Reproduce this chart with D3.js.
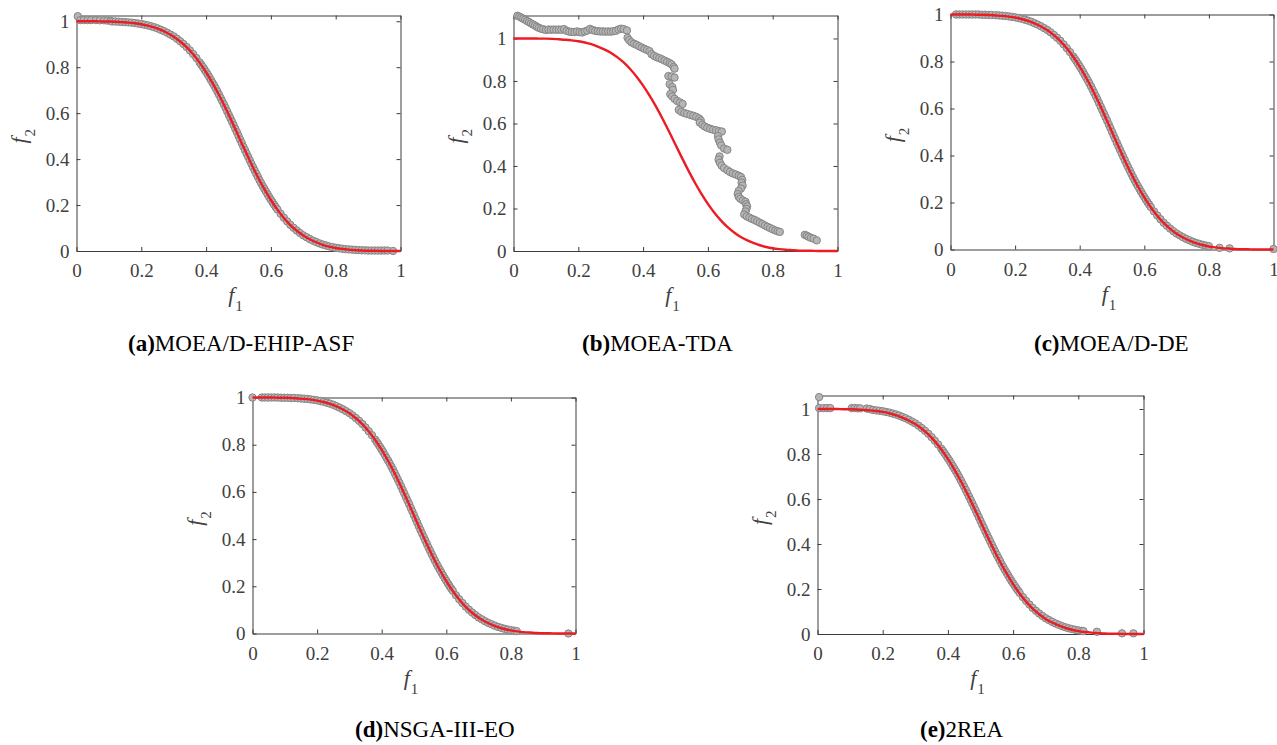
<!DOCTYPE html>
<html>
<head>
<meta charset="utf-8">
<script src="https://cdn.jsdelivr.net/npm/d3@7"></script>
<style>
  body { margin: 0; background: #fff; }
  svg { display: block; }
</style>
</head>
<body>
<script>
const width = 1277;
const height = 745;

// Tick values shared by every panel.
const xTicks = [0, 0.2, 0.4, 0.6, 0.8, 1];
const yTicks = [0, 0.2, 0.4, 0.6, 0.8, 1];

// True Pareto front (red line).
const frontF1 = [0, 0.02, 0.04, 0.06, 0.08, 0.10, 0.12, 0.14, 0.16, 0.18, 0.20, 0.22, 0.24, 0.26, 0.28, 0.30,
  0.32, 0.34, 0.36, 0.38, 0.40, 0.42, 0.44, 0.46, 0.48, 0.50, 0.52, 0.54, 0.56, 0.58, 0.60, 0.62, 0.64,
  0.66, 0.68, 0.70, 0.72, 0.74, 0.76, 0.78, 0.80, 0.82, 0.84, 0.86, 0.88, 0.90, 0.92, 0.94, 0.96, 0.98, 1];
const frontF2 = [1, 1, 1, 1, 0.999, 0.999, 0.998, 0.996, 0.994, 0.991, 0.987, 0.981, 0.973, 0.962, 0.949, 0.933,
  0.912, 0.887, 0.856, 0.820, 0.778, 0.731, 0.679, 0.622, 0.562, 0.500, 0.438, 0.378, 0.321, 0.269, 0.222, 0.180, 0.144,
  0.113, 0.088, 0.067, 0.051, 0.038, 0.027, 0.019, 0.013, 0.009, 0.006, 0.004, 0.002, 0.001, 0.001, 0, 0, 0, 0];

// Obtained populations, one array per algorithm: [f1, f2].
const dotsA = [
  [0.004, 1.022], [0.012, 1.005], [0.022, 1.005], [0.034, 1.005], [0.045, 1.005], [0.06, 1.005], [0.072, 1.004],
  [0.085, 1.004], [0.095, 1.003], [0.105, 1.002],
  [0.11, 0.999], [0.12, 0.999], [0.13, 0.998], [0.14, 0.997], [0.15, 0.996], [0.16, 0.995], [0.17, 0.994], [0.18, 0.992],
  [0.19, 0.990], [0.20, 0.988], [0.21, 0.985], [0.22, 0.982], [0.23, 0.978], [0.24, 0.974], [0.25, 0.969], [0.26, 0.963],
  [0.27, 0.957], [0.28, 0.950], [0.29, 0.942], [0.30, 0.934], [0.31, 0.924], [0.32, 0.913], [0.33, 0.901], [0.34, 0.888],
  [0.35, 0.873], [0.36, 0.857], [0.37, 0.840],
  [0.38, 0.821], [0.385, 0.811], [0.39, 0.801], [0.395, 0.790], [0.40, 0.779], [0.405, 0.768], [0.41, 0.756], [0.415, 0.744],
  [0.42, 0.732], [0.425, 0.720], [0.43, 0.707], [0.435, 0.694], [0.44, 0.680], [0.445, 0.666], [0.45, 0.652], [0.455, 0.638],
  [0.46, 0.623], [0.465, 0.608], [0.47, 0.593], [0.475, 0.578], [0.48, 0.563], [0.485, 0.548], [0.49, 0.532], [0.495, 0.517],
  [0.50, 0.501], [0.505, 0.485], [0.51, 0.470], [0.515, 0.454], [0.52, 0.439], [0.525, 0.424], [0.53, 0.409], [0.535, 0.394],
  [0.54, 0.379], [0.545, 0.364], [0.55, 0.350], [0.555, 0.336], [0.56, 0.322], [0.565, 0.308], [0.57, 0.295], [0.575, 0.282],
  [0.58, 0.270], [0.585, 0.258], [0.59, 0.246], [0.595, 0.234], [0.60, 0.223], [0.605, 0.212], [0.61, 0.201], [0.615, 0.191],
  [0.62, 0.181], [0.63, 0.162], [0.64, 0.145], [0.65, 0.129], [0.66, 0.114], [0.67, 0.101], [0.68, 0.089], [0.69, 0.078],
  [0.70, 0.068], [0.71, 0.060], [0.72, 0.052], [0.73, 0.045], [0.74, 0.039], [0.75, 0.033], [0.76, 0.028], [0.77, 0.024],
  [0.78, 0.020], [0.79, 0.017], [0.80, 0.014], [0.81, 0.012], [0.82, 0.010], [0.83, 0.008], [0.84, 0.007],
  [0.85, 0.006], [0.86, 0.005], [0.87, 0.004], [0.88, 0.003], [0.89, 0.003], [0.90, 0.002], [0.91, 0.002], [0.92, 0.002],
  [0.93, 0.002], [0.94, 0.002], [0.95, 0.002], [0.96, 0.002], [0.977, 0.0]
];

const dotsB = [
  [0.012, 1.107], [0.018, 1.103], [0.024, 1.098], [0.030, 1.093], [0.036, 1.088], [0.042, 1.082], [0.048, 1.077],
  [0.054, 1.071], [0.060, 1.066], [0.066, 1.061], [0.072, 1.055], [0.078, 1.050], [0.085, 1.046],
  [0.092, 1.043], [0.100, 1.040], [0.108, 1.042], [0.116, 1.041], [0.124, 1.042], [0.132, 1.041], [0.140, 1.042],
  [0.148, 1.041], [0.156, 1.044], [0.164, 1.036], [0.172, 1.032], [0.180, 1.031], [0.188, 1.030], [0.196, 1.033],
  [0.204, 1.030], [0.212, 1.028], [0.220, 1.033], [0.228, 1.037], [0.236, 1.045], [0.244, 1.040], [0.252, 1.036],
  [0.260, 1.034], [0.268, 1.033], [0.276, 1.033], [0.284, 1.032], [0.292, 1.033], [0.300, 1.032], [0.308, 1.034],
  [0.316, 1.036], [0.324, 1.042], [0.332, 1.046], [0.340, 1.044], [0.350, 1.038],
  [0.352, 1.003], [0.357, 0.992], [0.364, 0.982], [0.372, 0.975], [0.380, 0.970], [0.388, 0.963], [0.396, 0.957],
  [0.404, 0.951], [0.412, 0.946], [0.420, 0.940], [0.426, 0.926], [0.434, 0.918], [0.442, 0.912], [0.450, 0.907],
  [0.458, 0.902], [0.466, 0.896], [0.474, 0.890], [0.482, 0.884], [0.488, 0.878], [0.494, 0.866], [0.497, 0.858],
  [0.478, 0.823], [0.488, 0.821], [0.497, 0.816], [0.482, 0.785], [0.490, 0.771], [0.492, 0.758], [0.484, 0.738],
  [0.490, 0.727], [0.497, 0.716], [0.505, 0.706], [0.514, 0.699], [0.522, 0.692],
  [0.510, 0.664], [0.518, 0.655], [0.527, 0.649], [0.536, 0.645], [0.546, 0.640], [0.555, 0.636], [0.564, 0.631],
  [0.573, 0.624], [0.578, 0.614], [0.575, 0.604], [0.583, 0.594], [0.590, 0.586], [0.598, 0.580], [0.607, 0.575],
  [0.616, 0.571], [0.625, 0.568], [0.634, 0.564], [0.643, 0.562],
  [0.631, 0.540], [0.633, 0.525], [0.637, 0.510], [0.641, 0.497], [0.650, 0.482], [0.660, 0.476], [0.636, 0.445],
  [0.633, 0.430], [0.637, 0.415], [0.642, 0.402], [0.650, 0.390], [0.660, 0.380], [0.668, 0.372], [0.677, 0.365],
  [0.686, 0.360], [0.695, 0.354], [0.702, 0.348], [0.706, 0.335], [0.704, 0.322], [0.707, 0.308], [0.702, 0.294],
  [0.695, 0.282], [0.692, 0.268], [0.695, 0.255], [0.700, 0.246], [0.708, 0.238], [0.716, 0.232], [0.718, 0.220],
  [0.721, 0.210], [0.719, 0.198], [0.716, 0.186], [0.712, 0.172], [0.720, 0.163], [0.728, 0.157], [0.736, 0.151],
  [0.744, 0.146], [0.752, 0.140], [0.760, 0.133], [0.768, 0.127], [0.776, 0.120], [0.784, 0.114], [0.792, 0.108],
  [0.800, 0.102], [0.808, 0.097], [0.815, 0.093], [0.822, 0.090],
  [0.899, 0.076], [0.905, 0.072], [0.911, 0.067], [0.918, 0.062], [0.926, 0.058], [0.936, 0.050]
];

const dotsC = [
  [0.017, 1.0], [0.027, 1.0], [0.037, 1.0], [0.047, 1.0], [0.057, 1.0], [0.067, 1.0], [0.077, 1.0], [0.087, 1.0],
  [0.097, 0.999], [0.107, 0.999], [0.117, 0.998], [0.127, 0.998],
  [0.14, 0.997], [0.15, 0.996], [0.16, 0.995], [0.17, 0.994], [0.18, 0.992], [0.19, 0.990], [0.20, 0.988], [0.21, 0.985],
  [0.22, 0.982], [0.23, 0.978], [0.24, 0.974], [0.25, 0.969], [0.26, 0.963], [0.27, 0.957], [0.28, 0.950], [0.29, 0.942],
  [0.30, 0.934], [0.31, 0.924], [0.32, 0.913], [0.33, 0.901], [0.34, 0.888], [0.35, 0.873], [0.36, 0.857], [0.37, 0.840],
  [0.38, 0.821], [0.385, 0.811], [0.39, 0.801], [0.395, 0.790], [0.40, 0.779], [0.405, 0.768], [0.41, 0.756], [0.415, 0.744],
  [0.42, 0.732], [0.425, 0.720], [0.43, 0.707], [0.435, 0.694], [0.44, 0.680], [0.445, 0.666], [0.45, 0.652], [0.455, 0.638],
  [0.46, 0.623], [0.465, 0.608], [0.47, 0.593], [0.475, 0.578], [0.48, 0.563], [0.485, 0.548], [0.49, 0.532], [0.495, 0.517],
  [0.50, 0.501], [0.505, 0.485], [0.51, 0.470], [0.515, 0.454], [0.52, 0.439], [0.525, 0.424], [0.53, 0.409], [0.535, 0.394],
  [0.54, 0.379], [0.545, 0.364], [0.55, 0.350], [0.555, 0.336], [0.56, 0.322], [0.565, 0.308], [0.57, 0.295], [0.575, 0.282],
  [0.58, 0.270], [0.585, 0.258], [0.59, 0.246], [0.595, 0.234], [0.60, 0.223], [0.605, 0.212], [0.61, 0.201], [0.615, 0.191],
  [0.62, 0.181], [0.63, 0.162], [0.64, 0.145], [0.65, 0.129], [0.66, 0.114], [0.67, 0.101], [0.68, 0.089], [0.69, 0.078],
  [0.70, 0.068], [0.71, 0.060], [0.72, 0.052], [0.73, 0.045], [0.74, 0.039], [0.75, 0.033], [0.76, 0.028], [0.77, 0.024],
  [0.78, 0.020], [0.79, 0.017], [0.80, 0.014],
  [0.833, 0.007], [0.864, 0.005], [1.0, 0.002]
];

const dotsD = [
  [0.0, 1.0], [0.029, 1.0], [0.038, 1.0], [0.048, 1.0], [0.058, 1.0], [0.068, 1.0], [0.078, 1.0], [0.088, 0.999],
  [0.098, 0.999], [0.108, 0.999], [0.118, 0.998], [0.128, 0.998],
  [0.14, 0.997], [0.15, 0.996], [0.16, 0.995], [0.17, 0.994], [0.18, 0.992], [0.19, 0.990], [0.20, 0.988], [0.21, 0.985],
  [0.22, 0.982], [0.23, 0.978], [0.24, 0.974], [0.25, 0.969], [0.26, 0.963], [0.27, 0.957], [0.28, 0.950], [0.29, 0.942],
  [0.30, 0.934], [0.31, 0.924], [0.32, 0.913], [0.33, 0.901], [0.34, 0.888], [0.35, 0.873], [0.36, 0.857], [0.37, 0.840],
  [0.38, 0.821], [0.385, 0.811], [0.39, 0.801], [0.395, 0.790], [0.40, 0.779], [0.405, 0.768], [0.41, 0.756], [0.415, 0.744],
  [0.42, 0.732], [0.425, 0.720], [0.43, 0.707], [0.435, 0.694], [0.44, 0.680], [0.445, 0.666], [0.45, 0.652], [0.455, 0.638],
  [0.46, 0.623], [0.465, 0.608], [0.47, 0.593], [0.475, 0.578], [0.48, 0.563], [0.485, 0.548], [0.49, 0.532], [0.495, 0.517],
  [0.50, 0.501], [0.505, 0.485], [0.51, 0.470], [0.515, 0.454], [0.52, 0.439], [0.525, 0.424], [0.53, 0.409], [0.535, 0.394],
  [0.54, 0.379], [0.545, 0.364], [0.55, 0.350], [0.555, 0.336], [0.56, 0.322], [0.565, 0.308], [0.57, 0.295], [0.575, 0.282],
  [0.58, 0.270], [0.585, 0.258], [0.59, 0.246], [0.595, 0.234], [0.60, 0.223], [0.605, 0.212], [0.61, 0.201], [0.615, 0.191],
  [0.62, 0.181], [0.63, 0.162], [0.64, 0.145], [0.65, 0.129], [0.66, 0.114], [0.67, 0.101], [0.68, 0.089], [0.69, 0.078],
  [0.70, 0.068], [0.71, 0.060], [0.72, 0.052], [0.73, 0.045], [0.74, 0.039], [0.75, 0.033], [0.76, 0.028], [0.77, 0.024],
  [0.78, 0.020], [0.79, 0.017], [0.80, 0.014], [0.81, 0.012], [0.818, 0.010],
  [0.978, 0.0]
];

const dotsE = [
  [0.005, 1.053], [0.005, 1.004], [0.018, 1.004], [0.029, 1.004], [0.039, 1.004],
  [0.105, 1.004], [0.114, 1.004], [0.123, 1.003], [0.131, 1.003], [0.151, 1.002], [0.160, 1.0],
  [0.17, 0.996], [0.18, 0.994], [0.19, 0.992], [0.20, 0.990], [0.21, 0.987], [0.22, 0.984],
  [0.23, 0.980], [0.24, 0.976], [0.25, 0.971], [0.26, 0.965], [0.27, 0.959], [0.28, 0.952], [0.29, 0.944],
  [0.30, 0.936], [0.31, 0.926], [0.32, 0.915], [0.33, 0.903], [0.34, 0.890], [0.35, 0.875], [0.36, 0.859], [0.37, 0.842],
  [0.38, 0.823], [0.385, 0.813], [0.39, 0.803], [0.395, 0.792], [0.40, 0.781], [0.405, 0.770], [0.41, 0.758], [0.415, 0.746],
  [0.42, 0.734], [0.425, 0.722], [0.43, 0.709], [0.435, 0.696], [0.44, 0.682], [0.445, 0.668], [0.45, 0.654], [0.455, 0.640],
  [0.46, 0.625], [0.465, 0.610], [0.47, 0.595], [0.475, 0.580], [0.48, 0.565], [0.485, 0.550], [0.49, 0.534], [0.495, 0.519],
  [0.50, 0.503], [0.505, 0.487], [0.51, 0.472], [0.515, 0.456], [0.52, 0.441], [0.525, 0.426], [0.53, 0.411], [0.535, 0.396],
  [0.54, 0.381], [0.545, 0.366], [0.55, 0.352], [0.555, 0.338], [0.56, 0.324], [0.565, 0.310], [0.57, 0.297], [0.575, 0.284],
  [0.58, 0.272], [0.585, 0.260], [0.59, 0.248], [0.595, 0.236], [0.60, 0.225], [0.605, 0.214], [0.61, 0.203], [0.615, 0.193],
  [0.62, 0.183], [0.63, 0.164], [0.64, 0.147], [0.65, 0.131], [0.66, 0.116], [0.67, 0.103], [0.68, 0.091], [0.69, 0.080],
  [0.70, 0.070], [0.71, 0.062], [0.72, 0.054], [0.73, 0.047], [0.74, 0.041], [0.75, 0.035], [0.76, 0.030], [0.77, 0.026],
  [0.78, 0.022], [0.79, 0.019], [0.80, 0.016], [0.81, 0.014], [0.816, 0.013],
  [0.857, 0.010], [0.934, 0.003], [0.969, 0.003]
];

const panelDots = [dotsA, dotsB, dotsC, dotsD, dotsE];
const panelLetters = ["(a)", "(b)", "(c)", "(d)", "(e)"];
const panelNames = ["MOEA/D-EHIP-ASF", "MOEA-TDA", "MOEA/D-DE", "NSGA-III-EO", "2REA"];
const panelYMax = [1.025, 1.108, 1, 1, 1.06];

// Where each axes box and caption sits on the page.
const layout = [
  { left: 76.5,  top: 15.5,  w: 324, h: 235.5, capX: 128,  capY: 351, r: 3.7 },
  { left: 513.5, top: 15.5,  w: 324, h: 235.5, capX: 582,  capY: 351, r: 3.7 },
  { left: 950.5, top: 14.5,  w: 323, h: 235,   capX: 1034, capY: 351, r: 3.7 },
  { left: 252.5, top: 397.5, w: 323, h: 236,   capX: 355,  capY: 737, r: 3.7 },
  { left: 817.5, top: 395.5, w: 326, h: 238.5, capX: 920,  capY: 737, r: 3.7 }
];

const serif = "'Liberation Serif', 'Times New Roman', serif";
const axisColor = "#3d3d3d";
const textColor = "#404040";
const dotFill = "#b5b5b5";
const dotStroke = "#858585";
const frontColor = "#ec1c24";

const svg = d3.select("body").append("svg")
  .attr("width", width)
  .attr("height", height)
  .style("background", "#fff");

const front = frontF1.map((f, j) => [f, frontF2[j]]);

panelNames.forEach((name, i) => {
  const L = layout[i];
  const x = d3.scaleLinear().domain([0, 1]).range([0, L.w]);
  const y = d3.scaleLinear().domain([0, panelYMax[i]]).range([L.h, 0]);

  const g = svg.append("g").attr("transform", `translate(${L.left},${L.top})`);

  // Box axes with inward ticks on all four sides.
  const styleAxis = sel => {
    sel.attr("font-family", serif).attr("font-size", 19);
    sel.select(".domain").attr("stroke", axisColor);
    sel.selectAll(".tick line").attr("stroke", axisColor);
    sel.selectAll(".tick text").attr("fill", textColor);
  };
  const fmt = d3.format("~g");

  g.append("g")
    .attr("transform", `translate(0,${L.h})`)
    .call(d3.axisBottom(x).tickValues(xTicks).tickSize(-4).tickSizeOuter(0).tickPadding(13).tickFormat(fmt))
    .call(styleAxis);
  g.append("g")
    .call(d3.axisLeft(y).tickValues(yTicks).tickSize(-4).tickSizeOuter(0).tickPadding(7).tickFormat(fmt))
    .call(styleAxis);
  g.append("g")
    .call(d3.axisTop(x).tickValues(xTicks).tickSize(-4).tickSizeOuter(0).tickFormat(() => ""))
    .call(styleAxis);
  g.append("g")
    .attr("transform", `translate(${L.w},0)`)
    .call(d3.axisRight(y).tickValues(yTicks).tickSize(-4).tickSizeOuter(0).tickFormat(() => ""))
    .call(styleAxis);

  // Population points.
  g.append("g")
    .selectAll("circle")
    .data(panelDots[i])
    .join("circle")
    .attr("cx", d => x(d[0]))
    .attr("cy", d => y(d[1]))
    .attr("r", L.r)
    .attr("fill", dotFill)
    .attr("stroke", dotStroke)
    .attr("stroke-width", 1);

  // True Pareto front.
  g.append("path")
    .datum(front)
    .attr("fill", "none")
    .attr("stroke", frontColor)
    .attr("stroke-width", 2.4)
    .attr("d", d3.line()
      .x(d => x(d[0]))
      .y(d => y(d[1]))
      .curve(d3.curveMonotoneX));

  // Axis labels f1 and f2.
  const xl = g.append("text")
    .attr("x", L.w / 2 - 3)
    .attr("y", L.h + 51)
    .attr("text-anchor", "middle")
    .attr("font-family", serif)
    .attr("fill", textColor);
  xl.append("tspan").attr("font-style", "italic").attr("font-size", 22).text("f");
  xl.append("tspan").attr("font-size", 15).attr("dx", 1).attr("dy", 9).text("1");

  const yl = g.append("text")
    .attr("transform", `translate(${-51},${L.h / 2 + 3}) rotate(-90)`)
    .attr("text-anchor", "middle")
    .attr("font-family", serif)
    .attr("fill", textColor);
  yl.append("tspan").attr("font-style", "italic").attr("font-size", 22).text("f");
  yl.append("tspan").attr("font-size", 15).attr("dx", 1).attr("dy", 9).text("2");

  // Caption under the panel.
  const cap = svg.append("text")
    .attr("x", L.capX)
    .attr("y", L.capY)
    .attr("font-family", serif)
    .attr("font-size", 23)
    .attr("fill", "#000");
  cap.append("tspan").attr("font-weight", "bold").text(panelLetters[i]);
  cap.append("tspan").text(name);
});
</script>
</body>
</html>
